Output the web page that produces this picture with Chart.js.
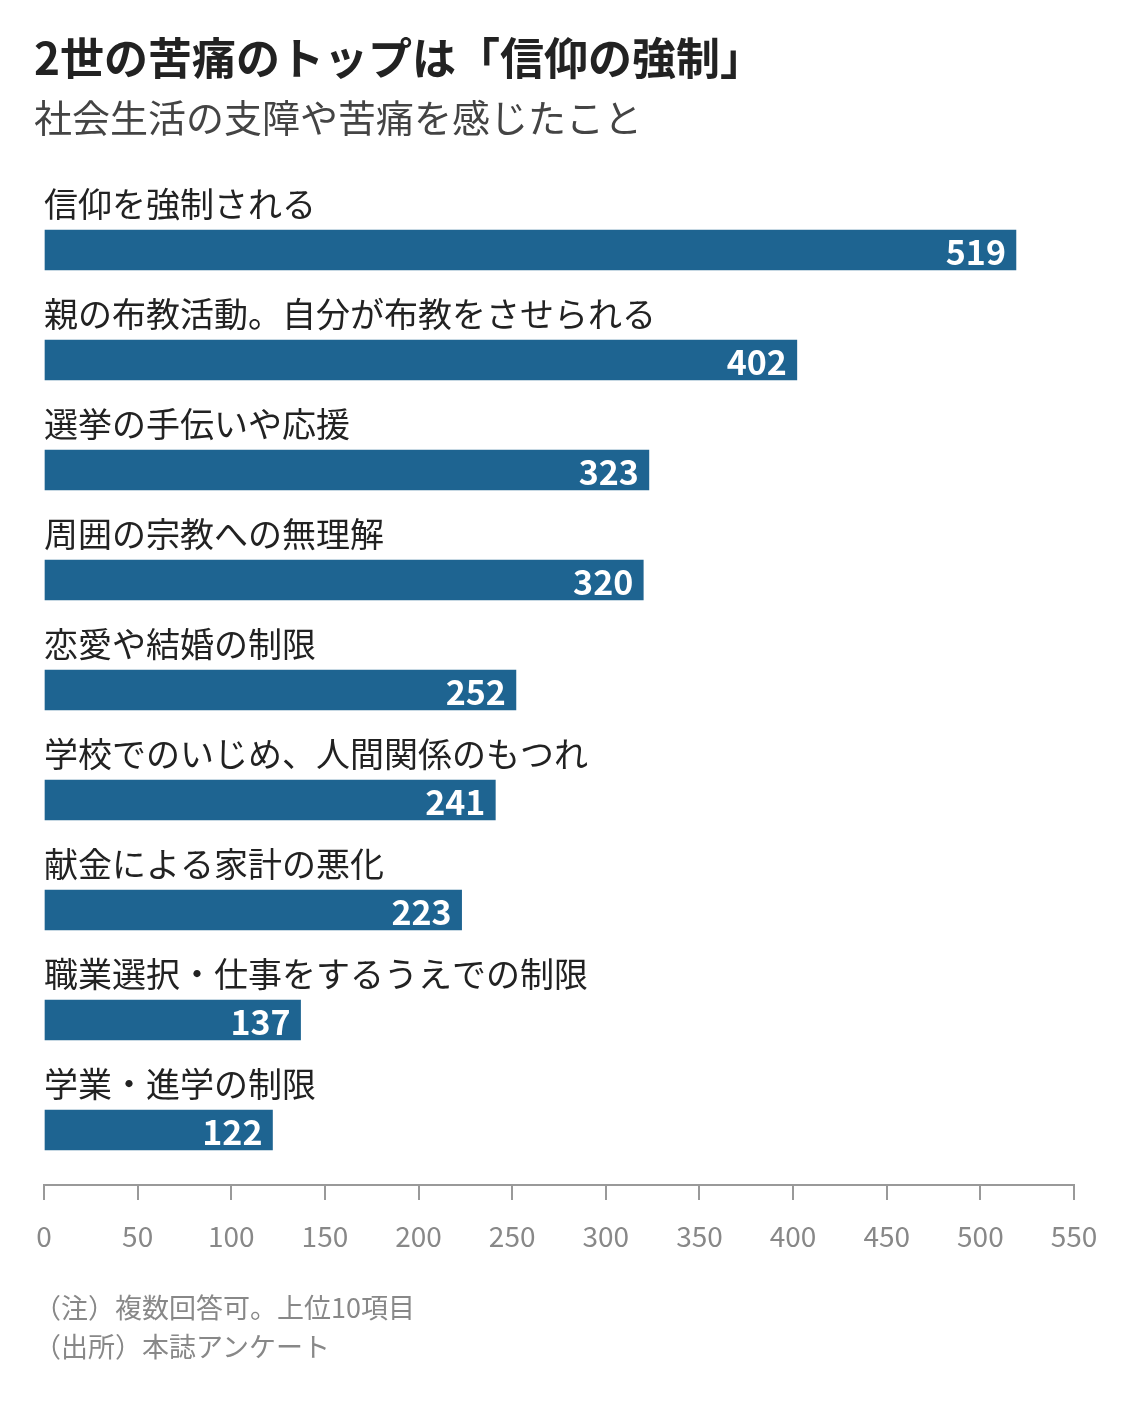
<!DOCTYPE html>
<html><head><meta charset="utf-8">
<script src="https://cdn.jsdelivr.net/npm/chart.js@4"></script>
<style>
body{margin:0;background:#fff;font-family:"Noto Sans CJK JP",sans-serif;}
#wrap{position:relative;width:1140px;height:1403px;}
canvas{position:absolute;left:0;top:0;}
.t{position:absolute;left:34px;white-space:nowrap;}
</style></head><body>
<div id="wrap">
<canvas id="c" width="1140" height="1403"></canvas>
<div class="t" style="top:24px;font-size:44px;font-weight:700;color:#222;">2世の苦痛のトップは「信仰の強制」</div>
<div class="t" style="top:88px;font-size:38px;color:#444;">社会生活の支障や苦痛を感じたこと</div>
<div class="t" style="top:1287px;font-size:27px;color:#888;">（注）複数回答可。上位10項目</div>
<div class="t" style="top:1326px;font-size:27px;color:#888;">（出所）本誌アンケート</div>
</div>
<script>
const categories=["信仰を強制される","親の布教活動。自分が布教をさせられる","選挙の手伝いや応援","周囲の宗教への無理解","恋愛や結婚の制限","学校でのいじめ、人間関係のもつれ","献金による家計の悪化","職業選択・仕事をするうえでの制限","学業・進学の制限"];
const values=[519,402,323,320,252,241,223,137,122];
const xTicks=[0,50,100,150,200,250,300,350,400,450,500,550];
const labelPlugin={id:'lbl',afterDatasetsDraw(chart){
  const ctx=chart.ctx;const meta=chart.getDatasetMeta(0);
  ctx.save();
  meta.data.forEach((b,i)=>{
    const top=b.y-b.height/2;
    ctx.font='34px "Noto Sans CJK JP"';ctx.fillStyle='#222';ctx.textAlign='left';ctx.textBaseline='middle';
    ctx.fillText(categories[i],44,top-26);
    ctx.font='bold 34px "Noto Sans CJK JP"';ctx.fillStyle='#fff';ctx.textAlign='right';
    ctx.fillText(String(values[i]),b.x-10,b.y+2);
  });
  ctx.restore();
}};
new Chart(document.getElementById('c'),{
  type:'bar',
  data:{labels:categories,datasets:[{data:values,backgroundColor:'#1e6491',barThickness:40}]},
  options:{indexAxis:'y',responsive:false,animation:false,
    layout:{padding:{top:195,left:44,right:66,bottom:148}},
    plugins:{legend:{display:false},tooltip:{enabled:false}},
    scales:{
      y:{display:false,afterFit(s){s.width=0;}},
      x:{min:0,max:550,afterBuildTicks(s){s.ticks=xTicks.map(v=>({value:v}));},
        afterFit(s){s.height=70;},
        border:{display:true,color:'#999',width:2},
        grid:{drawOnChartArea:false,drawTicks:true,tickLength:15,color:'#999',lineWidth:2},
        ticks:{color:'#888',font:{size:28,family:'"Noto Sans CJK JP"'},padding:20}}
    }},
  plugins:[labelPlugin]
});
</script>
</body></html>
